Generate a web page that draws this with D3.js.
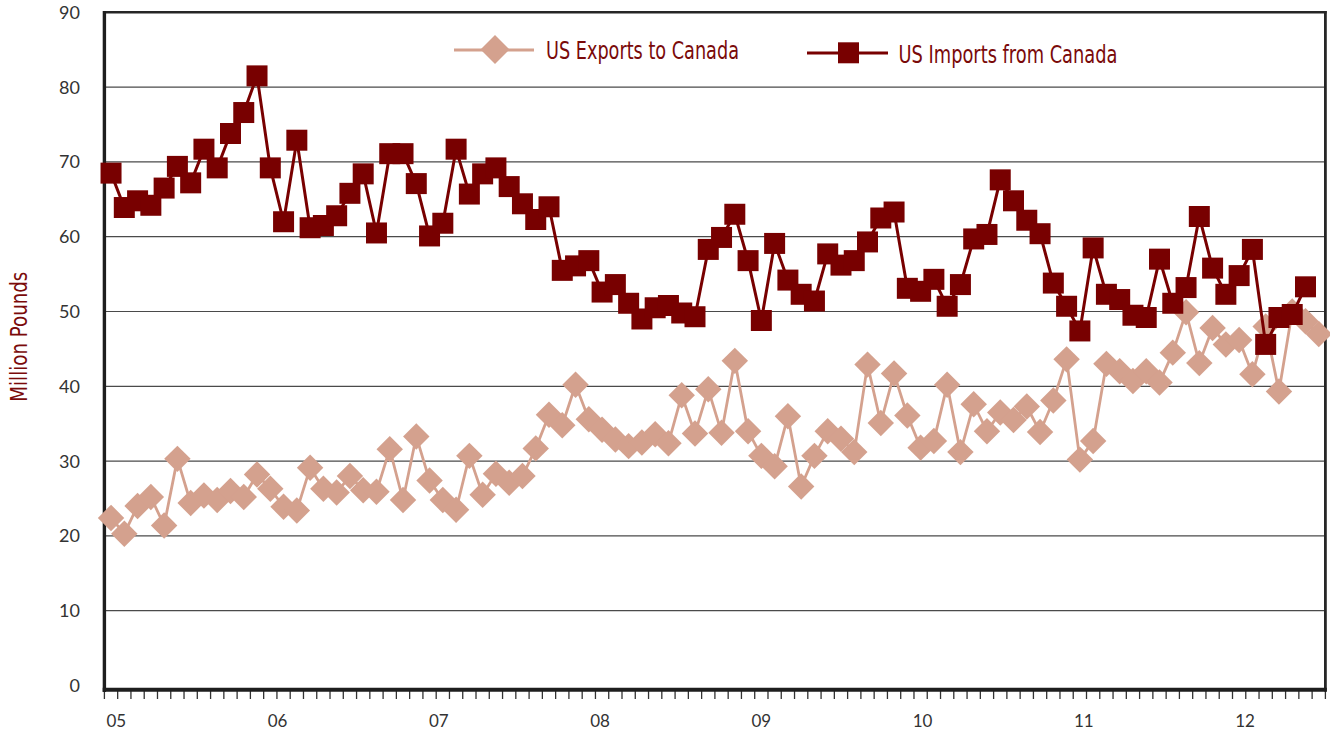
<!DOCTYPE html>
<html>
<head>
<meta charset="utf-8">
<script src="https://cdn.jsdelivr.net/npm/d3@7"></script>
<style>
  html, body { margin: 0; padding: 0; background: #ffffff; }
  svg { display: block; }
</style>
</head>
<body>
<svg id="chart" width="1330" height="732"></svg>
<script>
// ---------------- DATA ----------------
// Monthly categories, Jan 2005 - Aug 2012
const categories = [];
for (let yr = 2005; yr <= 2012; yr++) {
  for (let m = 1; m <= 12; m++) {
    if (yr === 2012 && m > 8) break;
    categories.push(yr + "-" + String(m).padStart(2, "0"));
  }
}
const yearLabels = ["05", "06", "07", "08", "09", "10", "11", "12"];
const yTicks = [0, 10, 20, 30, 40, 50, 60, 70, 80, 90];

const seriesNames = ["US Exports to Canada", "US Imports from Canada"];

// US Exports to Canada (million pounds)
const exportsValues = [
  22.4, 20.3, 24.0, 25.2, 21.4, 30.3, 24.4, 25.4, 24.8, 26.0, 25.2, 28.2,
  26.3, 23.9, 23.4, 29.1, 26.3, 25.8, 28.0, 26.1, 25.9, 31.6, 24.8, 33.3,
  27.4, 24.8, 23.5, 30.7, 25.5, 28.3, 27.1, 28.0, 31.7, 36.2, 34.8, 40.2,
  35.6, 34.2, 32.9, 32.0, 32.5, 33.6, 32.4, 38.8, 33.7, 39.6, 33.8, 43.4,
  34.0, 30.7, 29.3, 36.0, 26.6, 30.7, 34.0, 33.0, 31.2, 42.9, 35.1, 41.7,
  36.1, 31.8, 32.7, 40.2, 31.2, 37.6, 34.0, 36.5, 35.5, 37.3, 33.9, 38.1,
  43.6, 30.2, 32.7, 43.0, 42.0, 40.7, 42.0, 40.5, 44.5, 49.9, 43.1, 47.8,
  45.6, 46.2, 41.6, 48.0, 39.3, 50.0, 48.7, 47.0
];

// US Imports from Canada (million pounds)
const importsValues = [
  68.5, 63.9, 64.8, 64.2, 66.5, 69.4, 67.2, 71.7, 69.2, 73.8, 76.6, 81.5,
  69.2, 62.0, 72.9, 61.2, 61.5, 62.8, 65.8, 68.4, 60.5, 71.1, 71.1, 67.1,
  60.1, 61.8, 71.7, 65.7, 68.4, 69.2, 66.7, 64.4, 62.3, 64.0, 55.5, 56.1,
  56.8, 52.6, 53.6, 51.1, 49.0, 50.5, 50.8, 49.8, 49.3, 58.3, 59.9, 63.0,
  56.8, 48.8, 59.1, 54.2, 52.3, 51.4, 57.7, 56.2, 56.8, 59.3, 62.5, 63.3,
  53.1, 52.7, 54.3, 50.7, 53.6, 59.7, 60.3, 67.6, 64.8, 62.2, 60.4, 53.8,
  50.7, 47.4, 58.5, 52.3, 51.6, 49.5, 49.2, 57.0, 51.1, 53.2, 62.7, 55.8,
  52.3, 54.8, 58.3, 45.6, 49.2, 49.6, 53.3
];

// ---------------- STYLE ----------------
const colExports = "#d4a18e";
const colImports = "#780000";
const colText = "#333333";
const colTitle = "#7a0a0a";
const fontNum = "Lato, 'Open Sans', sans-serif";
const fontCond = "'Liberation Sans Narrow', 'DejaVu Sans Condensed', Roboto, Lato, sans-serif";

const plotLeft = 104.4, plotRight = 1325.4, plotTop = 12.3, plotBottom = 685.5;

const svg = d3.select("#chart");

const x = d3.scaleBand().domain(categories).range([plotLeft, plotRight]).padding(0);
const cx = c => x(c) + x.bandwidth() / 2;
const y = d3.scaleLinear().domain([0, 90]).range([plotBottom, plotTop]);
const xLab = d3.scalePoint().domain(yearLabels).range([116.3, 1245]);

// gridlines
svg.append("g")
  .selectAll("line")
  .data(yTicks.filter(v => v > 0 && v < 90))
  .join("line")
  .attr("x1", plotLeft + 1).attr("x2", plotRight - 1)
  .attr("y1", d => y(d)).attr("y2", d => y(d))
  .attr("stroke", "#4a4a4a").attr("stroke-width", 1.2);

// frame: top & right
svg.append("line").attr("x1", plotLeft).attr("x2", plotRight + 1.2)
  .attr("y1", y(90)).attr("y2", y(90))
  .attr("stroke", "#262626").attr("stroke-width", 2.6);
svg.append("line").attr("x1", plotRight).attr("x2", plotRight)
  .attr("y1", y(90) - 1.2).attr("y2", plotBottom + 6)
  .attr("stroke", "#262626").attr("stroke-width", 2.8);

// y tick labels
svg.append("g")
  .selectAll("text")
  .data(yTicks)
  .join("text")
  .attr("x", 80).attr("y", d => y(d))
  .attr("dy", "0.36em")
  .attr("text-anchor", "end")
  .attr("font-family", fontNum).attr("font-size", 18)
  .attr("fill", colText)
  .text(d => d);

// x tick marks (category boundaries)
const boundaries = categories.map(c => x(c)).concat([plotRight]);
svg.append("g")
  .selectAll("line")
  .data(boundaries)
  .join("line")
  .attr("x1", d => d).attr("x2", d => d)
  .attr("y1", plotBottom + 5).attr("y2", plotBottom + 13.5)
  .attr("stroke", "#333").attr("stroke-width", 1.3);

// x labels
svg.append("g")
  .selectAll("text")
  .data(yearLabels)
  .join("text")
  .attr("x", d => xLab(d)).attr("y", 727)
  .attr("text-anchor", "middle")
  .attr("font-family", fontNum).attr("font-size", 17)
  .attr("fill", colText)
  .text(d => d);

// axes lines (left and bottom)
svg.append("line").attr("x1", plotLeft).attr("x2", plotLeft)
  .attr("y1", y(90) - 1.2).attr("y2", plotBottom + 6.5)
  .attr("stroke", "#1e1e1e").attr("stroke-width", 3.4);
svg.append("line").attr("x1", plotLeft - 1.7).attr("x2", plotRight + 1.4)
  .attr("y1", plotBottom + 4.3).attr("y2", plotBottom + 4.3)
  .attr("stroke", "#1e1e1e").attr("stroke-width", 4);

// y-axis title
svg.append("text")
  .attr("transform", "translate(26.5,336.7) rotate(-90)")
  .attr("text-anchor", "middle")
  .attr("font-family", fontCond).attr("font-size", 23)
  .attr("textLength", 130).attr("lengthAdjust", "spacingAndGlyphs")
  .attr("fill", colTitle)
  .text("Million Pounds");

// ---------------- SERIES ----------------
const exportsData = exportsValues.map((v, i) => ({ c: categories[i], v }));
const importsData = importsValues.map((v, i) => ({ c: categories[i], v }));

const line = d3.line().x(d => cx(d.c)).y(d => y(d.v));

const diamond = d3.symbol().type(d3.symbolSquare).size(350);
const square = d3.symbol().type(d3.symbolSquare).size(441);

svg.append("path").datum(exportsData)
  .attr("d", line).attr("fill", "none")
  .attr("stroke", colExports).attr("stroke-width", 2.8)
  .attr("stroke-linejoin", "round");
svg.append("g").selectAll("path").data(exportsData).join("path")
  .attr("d", diamond)
  .attr("transform", d => `translate(${cx(d.c)},${y(d.v)}) rotate(45)`)
  .attr("fill", colExports);

svg.append("path").datum(importsData)
  .attr("d", line).attr("fill", "none")
  .attr("stroke", colImports).attr("stroke-width", 3)
  .attr("stroke-linejoin", "round");
svg.append("g").selectAll("path").data(importsData).join("path")
  .attr("d", square)
  .attr("transform", d => `translate(${cx(d.c)},${y(d.v)})`)
  .attr("fill", colImports);

// ---------------- LEGEND ----------------
const legend = svg.append("g");
// exports
legend.append("line").attr("x1", 454).attr("x2", 534).attr("y1", 50).attr("y2", 50)
  .attr("stroke", colExports).attr("stroke-width", 2.8);
legend.append("path")
  .attr("d", d3.symbol().type(d3.symbolSquare).size(420)())
  .attr("transform", "translate(495,49.5) rotate(45)")
  .attr("fill", colExports);
legend.append("text")
  .attr("x", 546).attr("y", 59)
  .attr("font-family", fontCond).attr("font-size", 24)
  .attr("textLength", 193).attr("lengthAdjust", "spacingAndGlyphs")
  .attr("fill", colTitle)
  .text(seriesNames[0]);
// imports
legend.append("line").attr("x1", 807).attr("x2", 888).attr("y1", 53).attr("y2", 53)
  .attr("stroke", colImports).attr("stroke-width", 3);
legend.append("path")
  .attr("d", d3.symbol().type(d3.symbolSquare).size(441)())
  .attr("transform", "translate(848.5,52.8)")
  .attr("fill", colImports);
legend.append("text")
  .attr("x", 898.5).attr("y", 62.5)
  .attr("font-family", fontCond).attr("font-size", 24)
  .attr("textLength", 219).attr("lengthAdjust", "spacingAndGlyphs")
  .attr("fill", colTitle)
  .text(seriesNames[1]);
</script>
</body>
</html>
